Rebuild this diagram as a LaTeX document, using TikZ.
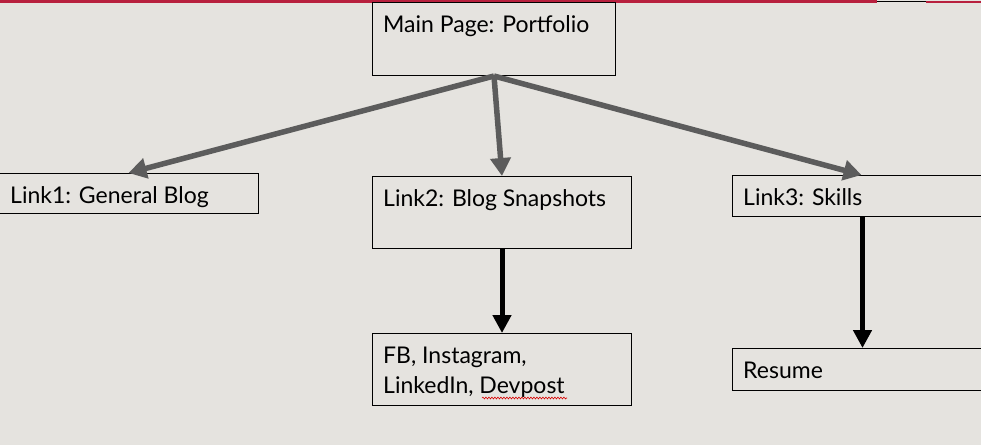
\documentclass[tikz,border=0pt]{standalone}
\usepackage{fontspec}
\setmainfont{Lato}
\usetikzlibrary{arrows.meta,decorations.pathmorphing}
\definecolor{bgc}{RGB}{229,227,223}
\definecolor{redc}{RGB}{184,32,62}
\definecolor{grayarrow}{RGB}{92,92,92}
\tikzset{
  box/.style={draw=black, line width=1pt, rectangle, inner sep=0pt, anchor=north west},
  txt/.style={font=\fontsize{23}{30}\selectfont, text=black, inner sep=0pt, anchor=base west},
  garrow/.style={draw=grayarrow, line width=5.5pt, -{Triangle[length=18pt,width=20pt]}},
  barrow/.style={draw=black, line width=5pt, -{Triangle[length=18pt,width=18pt]}},
}
\begin{document}
\begin{tikzpicture}[x=1pt,y=-1pt]
\useasboundingbox (0,0) rectangle (981,445);
\fill[bgc] (0,0) rectangle (981,445);
% top strip
\fill[redc] (0,0) rectangle (877,3);
\fill[black] (877,0.5) rectangle (926,2);
\fill[redc] (926,1) rectangle (981,2.5);
% boxes
\node[box, minimum width=243pt, minimum height=73pt] (main) at (372,2) {};
\node[box, minimum width=260pt, minimum height=40pt] (link1) at (-2,173) {};
\node[box, minimum width=259pt, minimum height=72pt] (link2) at (372,176) {};
\node[box, minimum width=252pt, minimum height=41pt] (link3) at (732,175) {};
\node[box, minimum width=259pt, minimum height=72pt] (fb) at (372,333) {};
\node[box, minimum width=252pt, minimum height=42pt] (resume) at (732,348) {};
% texts
\node[txt] (tmain) at (383,32) {Main Page: Portfolio};
\node[txt] (tlink1) at (10,203) {Link1: General Blog};
\node[txt] (tlink2) at (383,206) {Link2: Blog Snapshots};
\node[txt] (tlink3) at (743,205) {Link3: Skills};
\node[txt] (tfb1) at (383,363) {FB, Instagram,};
\node[txt] (tfb2) at (383,393) {LinkedIn, Devpost};
\node[txt] (tresume) at (743,378) {Resume};
% spell-check underline
\coordinate (wv1) at (482,398);
\coordinate (wv2) at (567,398);
\draw[red!85!black, line width=0.6pt, decorate, decoration={snake, amplitude=0.9pt, segment length=3pt}] (wv1) -- (wv2);
% connectors
\draw[garrow] (main.south) -- (link1.north);
\draw[garrow] (main.south) -- (link2.north);
\draw[garrow] (main.south) -- ([xshift=3pt]link3.north);
\draw[barrow] (link2.south) -- (fb.north);
\draw[barrow] ([xshift=4pt]link3.south) -- ([xshift=4pt]resume.north);
\end{tikzpicture}
\end{document}
